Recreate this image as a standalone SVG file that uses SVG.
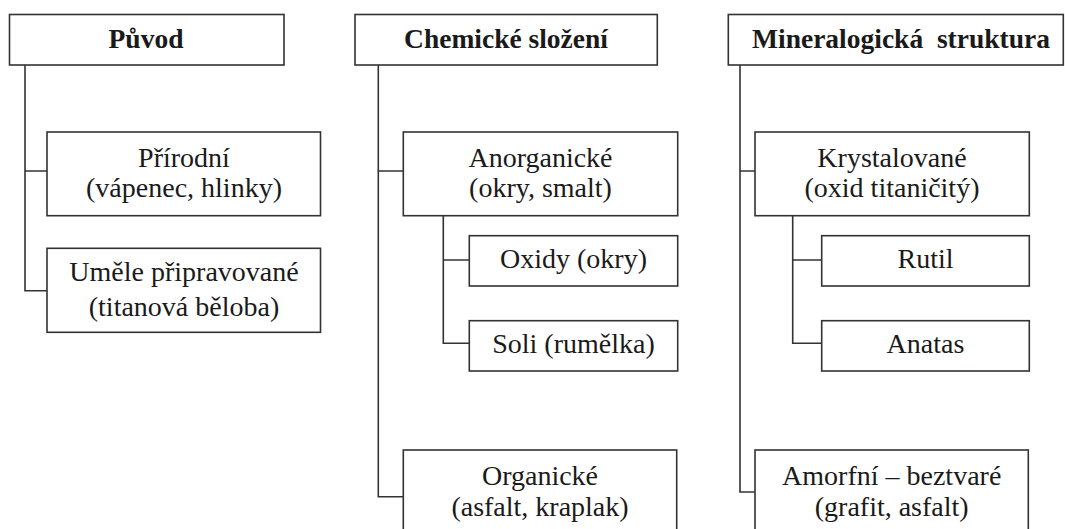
<svg xmlns="http://www.w3.org/2000/svg" width="1065" height="529" viewBox="0 0 1065 529">
<style>
.box{fill:#fff;stroke:#333;stroke-width:1.6}
.ln{fill:none;stroke:#333;stroke-width:1.6}
text{font-family:"Liberation Serif","Times New Roman",serif;font-size:28px;fill:#1a1a1a;text-anchor:middle}
.h{font-weight:bold;font-size:27.5px}
</style>
<rect width="1065" height="529" fill="#fff"/>
<g id="connectors">
<path class="ln" d="M25 65 V290.7 H47 M25 171 H47"/>
<path class="ln" d="M378.3 65 V496.7 H403.3 M378.3 171 H403.3"/>
<path class="ln" d="M443.3 215.7 V343.3 H469.3 M443.3 260 H469.3"/>
<path class="ln" d="M740 65 V492 H755 M740 171 H755"/>
<path class="ln" d="M792.7 215.7 V343.3 H821.7 M792.7 260 H821.7"/>
</g>
<g id="puvod"><rect class="box" x="9.5" y="14.5" width="274.5" height="50.5"/><text class="h" x="146" y="48.3">Původ</text></g>
<g id="prirodni"><rect class="box" x="47" y="132" width="273.5" height="83.7"/><text x="184" y="166.7">Přírodní</text><text x="184" y="197.3">(vápenec, hlinky)</text></g>
<g id="umele"><rect class="box" x="47" y="248.3" width="273.5" height="84"/><text x="184" y="281">Uměle připravované</text><text x="184" y="315.5">(titanová běloba)</text></g>
<g id="chemicke"><rect class="box" x="355" y="14.5" width="302.3" height="50.5"/><text class="h" x="506" y="48.3">Chemické složení</text></g>
<g id="anorganicke"><rect class="box" x="403.3" y="132" width="274.4" height="83.7"/><text x="540.5" y="166.7">Anorganické</text><text x="540.5" y="197.3">(okry, smalt)</text></g>
<g id="oxidy"><rect class="box" x="469.3" y="235.7" width="208.4" height="50.3"/><text x="573.5" y="268.3">Oxidy (okry)</text></g>
<g id="soli"><rect class="box" x="469.3" y="320.7" width="208.4" height="50.3"/><text x="573.5" y="352.5">Soli (rumělka)</text></g>
<g id="organicke"><rect class="box" x="403.3" y="450" width="273.4" height="100"/><text x="540" y="485">Organické</text><text x="540" y="515.5">(asfalt, kraplak)</text></g>
<g id="mineralogicka"><rect class="box" x="728.3" y="14.5" width="335" height="50.5"/><text class="h" x="901" y="48.3" xml:space="preserve">Mineralogická  struktura</text></g>
<g id="krystalovane"><rect class="box" x="755" y="132" width="274.3" height="83.7"/><text x="892" y="166.7">Krystalované</text><text x="892" y="197.3">(oxid titaničitý)</text></g>
<g id="rutil"><rect class="box" x="821.7" y="235.7" width="207.6" height="50.3"/><text x="925.5" y="268.3">Rutil</text></g>
<g id="anatas"><rect class="box" x="821.7" y="320.7" width="207.6" height="50.3"/><text x="925.5" y="352.5">Anatas</text></g>
<g id="amorfni"><rect class="box" x="755" y="450" width="273.3" height="100"/><text x="891.7" y="485">Amorfní – beztvaré</text><text x="891.7" y="515.5">(grafit, asfalt)</text></g>
</svg>
